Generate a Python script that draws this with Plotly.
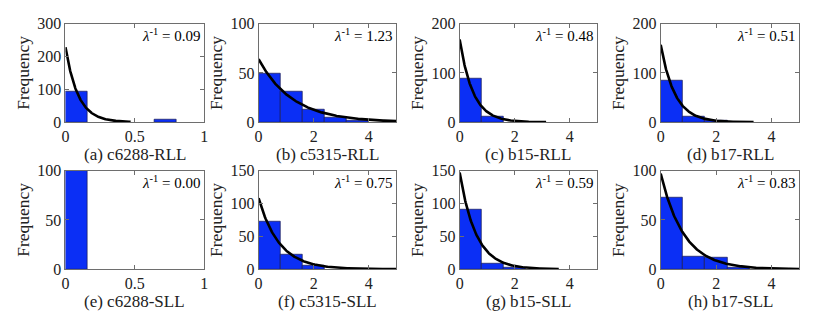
import numpy as np
import plotly.graph_objects as go
from plotly.subplots import make_subplots

# panel names / captions
captions = ["(a) c6288-RLL", "(b) c5315-RLL", "(c) b15-RLL", "(d) b17-RLL",
            "(e) c6288-SLL", "(f) c5315-SLL", "(g) b15-SLL", "(h) b17-SLL"]

# histogram bins (left edges), bin widths and counts
bin_left = [[0, 0.64], [0, 0.8, 1.6, 2.4, 3.2], [0, 0.8], [0, 0.8, 1.6],
            [0], [0, 0.8, 1.6], [0, 0.8, 1.6], [0, 0.8, 1.6, 2.4]]
bin_width = [0.16, 0.8, 0.8, 0.8, 0.16, 0.8, 0.8, 0.8]
counts = [[92, 8], [49, 31, 13, 5, 2], [88, 12], [85, 12, 3],
          [100], [73, 22, 5], [90, 8, 2], [73, 13, 12, 2]]

# exponential fit: mean (lambda^-1), peak height at x=0, end of drawn curve
lam_inv = [0.09, 1.23, 0.48, 0.51, 0.00, 0.75, 0.59, 0.83]
fit_peak = [228, 64, 168, 157, 0, 108, 147, 97]
fit_end = [0.47, 5, 3.14, 3.35, 0, 5, 3.6, 5]

x_max = [1, 5, 5, 5, 1, 5, 5, 5]
y_max = [300, 100, 200, 200, 100, 150, 150, 100]
y_step = [100, 50, 100, 100, 50, 50, 50, 50]

W, H = 830, 330
OFF = 8  # page body margin
col_px = [(62, 202), (257, 396), (460, 599), (663, 803)]
row_px = [(16, 120), (171, 275)]

FONT = "Liberation Serif, Times New Roman, Times, DejaVu Serif, serif"
BAR = "#0b2ff5"
AXC = "#6e6e6e"


def px_x(p):
    return (p - OFF) / W


def px_y(p):
    return 1 - (p - OFF) / H


fig = make_subplots(rows=2, cols=4)

anns = []
for i in range(8):
    r, c = divmod(i, 4)
    fig.add_trace(go.Bar(x=bin_left[i], y=counts[i], width=bin_width[i], offset=0,
                         marker=dict(color=BAR, line=dict(color="#1a1a50", width=0.7)),
                         showlegend=False), row=r + 1, col=c + 1)
    if lam_inv[i] > 0:
        xs = np.linspace(0, fit_end[i], 200)
        ys = fit_peak[i] * np.exp(-xs / lam_inv[i])
        fig.add_trace(go.Scatter(x=xs, y=ys, mode="lines",
                                 line=dict(color="black", width=2.6),
                                 showlegend=False), row=r + 1, col=c + 1)

    ax = "" if i == 0 else str(i + 1)
    x0, x1 = col_px[c]
    top, bot = row_px[r]
    xt = [0, 0.5, 1] if x_max[i] == 1 else [0, 2, 4]
    fig.update_layout({
        f"xaxis{ax}": dict(domain=[px_x(x0), px_x(x1)], range=[0, x_max[i]],
                           tickvals=xt, ticktext=[f"{v:g}" for v in xt]),
        f"yaxis{ax}": dict(domain=[px_y(bot), px_y(top)], range=[0, y_max[i]],
                           dtick=y_step[i]),
    })
    xr = "x" + ax + " domain"
    yr = "y" + ax + " domain"
    anns.append(dict(text=f"<i>λ</i><sup>-1</sup> = {lam_inv[i]:.2f}", xref=xr, yref=yr,
                     x=1, y=1, xanchor="right", yanchor="middle", xshift=-2,
                     yshift=-11, showarrow=False, font=dict(family=FONT, size=15, color="black")))
    anns.append(dict(text=captions[i], xref="paper", yref="paper",
                     x=px_x((x0 + x1) / 2), y=px_y(bot + 34), xanchor="center",
                     yanchor="middle", showarrow=False,
                     font=dict(family=FONT, size=17, color="#222")))
    anns.append(dict(text="Frequency", xref="paper", yref="paper",
                     x=px_x(x0 - 43), y=px_y((top + bot) / 2), textangle=-90,
                     xanchor="center", yanchor="middle", showarrow=False,
                     font=dict(family=FONT, size=17.5, color="#222")))

fig.update_xaxes(showline=True, linecolor=AXC, linewidth=1, mirror="ticks",
                 ticks="inside", ticklen=4, tickcolor=AXC, showgrid=False, zeroline=False,
                 tickfont=dict(family=FONT, size=16, color="#222"))
fig.update_yaxes(showline=True, linecolor=AXC, linewidth=1, mirror="ticks",
                 ticks="inside", ticklen=4, tickcolor=AXC, showgrid=False, zeroline=False,
                 tickfont=dict(family=FONT, size=16, color="#222"))

fig.update_layout(width=W, height=H, margin=dict(l=0, r=0, t=0, b=0),
                  plot_bgcolor="white", paper_bgcolor="white",
                  bargap=0, annotations=anns)

fig.write_html("out.html")
